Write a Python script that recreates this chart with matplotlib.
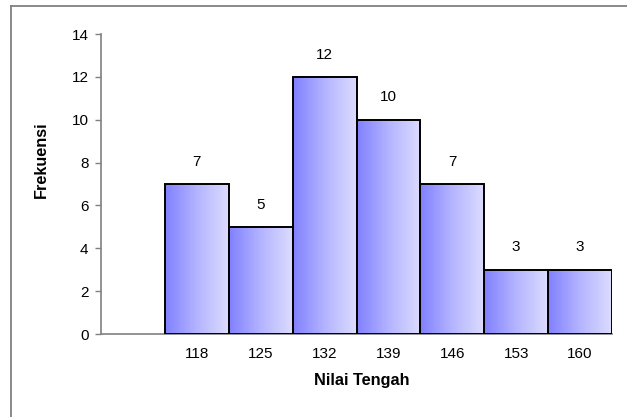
import numpy as np
import matplotlib
matplotlib.use("Agg")
import matplotlib.pyplot as plt
from matplotlib.lines import Line2D

plt.rcParams['font.family'] = ['Liberation Sans', 'DejaVu Sans']

# Frequency distribution by class midpoint (first slot left empty)
categories = ["", "118", "125", "132", "139", "146", "153", "160"]
frequencies = [0, 7, 5, 12, 10, 7, 3, 3]
y_ticks = [0, 2, 4, 6, 8, 10, 12, 14]

W, H = 627, 417
fig = plt.figure(figsize=(W / 100, H / 100), dpi=100)
ax = fig.add_axes([101 / W, 1 - 334 / H, (612 - 101) / W, (334 - 34) / H])

x = np.arange(len(categories))
bars = ax.bar(x, frequencies, width=1.0, facecolor="none",
              edgecolor="black", linewidth=[1.4 if v > 0 else 0 for v in frequencies],
              zorder=3)

# horizontal blue-to-pale gradient fill for each bar
grad = np.linspace(0, 1, 256).reshape(1, -1)
cmap = matplotlib.colors.LinearSegmentedColormap.from_list(
    "bluefade", ["#8080FF", "#B4B4FF", "#DCDCFF"])
for b, v in zip(bars, frequencies):
    if v <= 0:
        continue
    x0 = b.get_x()
    ax.imshow(grad, cmap=cmap, aspect="auto", interpolation="bilinear",
              extent=(x0, x0 + b.get_width(), 0, v), zorder=2)
    ax.annotate(str(v), (x0 + b.get_width() / 2, v), xytext=(0, 11),
                textcoords="offset points", ha="center", va="bottom",
                fontsize=11, color="black")

ax.set_xlim(-0.5, len(categories) - 0.5)
ax.set_ylim(0, 14)
ax.set_yticks(y_ticks)
ax.set_xticks(x)
ax.set_xticklabels(categories)
ax.tick_params(axis="x", length=0, pad=9, labelsize=11)
ax.tick_params(axis="y", length=4, width=1, color="#808080", pad=5, labelsize=11)

for side in ("top", "right"):
    ax.spines[side].set_visible(False)
for side in ("left", "bottom"):
    ax.spines[side].set_color("#808080")
    ax.spines[side].set_linewidth(1.2)

ax.set_xlabel("Nilai Tengah", fontsize=11.7, fontweight="bold")
ax.set_ylabel("Frekuensi", fontsize=11.7, fontweight="bold")
ax.xaxis.set_label_coords(0.5 + (362 - 356.5) / 511, (334 - 381) / 300,
                          transform=ax.transAxes)
ax.xaxis.label.set_va("center")
ax.yaxis.set_label_coords((41.5 - 101) / 511, (334 - 160) / 300,
                          transform=ax.transAxes)
ax.yaxis.label.set_va("center")

# outer chart frame
fig.add_artist(Line2D([10.5 / W, 10.5 / W], [0, 1 - 5.5 / H],
                      color="#808080", linewidth=1.3, transform=fig.transFigure))
fig.add_artist(Line2D([10.5 / W, 1], [1 - 5.5 / H, 1 - 5.5 / H],
                      color="#808080", linewidth=1.3, transform=fig.transFigure))

fig.savefig("out.png", dpi=100)
